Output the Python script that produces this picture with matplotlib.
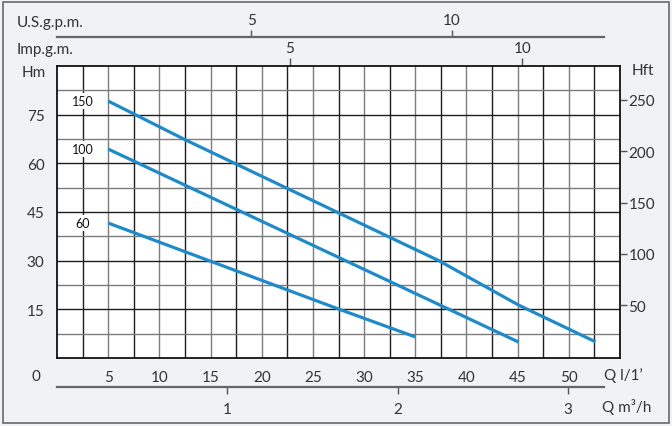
import matplotlib
matplotlib.use("Agg")
import matplotlib.pyplot as plt
from matplotlib.patches import Rectangle

plt.rcParams['font.family'] = ['Lato', 'DejaVu Sans']

# ---- data (Q in l/min, H in m) ----
curve_labels = ["150", "100", "60"]
q_150 = [5, 12.5, 37.3, 45.1, 52.6]
h_150 = [79.2, 67.3, 30.0, 16.3, 5.0]
q_100 = [5, 35, 45.1]
h_100 = [64.4, 19.9, 4.9]
q_60 = [5, 27.5, 35]
h_60 = [41.6, 15.1, 6.5]
label_y = [79.2, 64.4, 41.6]

x_ticks = [5, 10, 15, 20, 25, 30, 35, 40, 45, 50]
y_ticks = [15, 30, 45, 60, 75]
hft_ticks = [50, 100, 150, 200, 250]
imp_ticks = [5, 10]
us_ticks = [5, 10]
m3h_ticks = [1, 2, 3]

W, H = 672, 427
fig = plt.figure(figsize=(W / 100, H / 100), dpi=100)
fig.patch.set_facecolor('#f1f2f4')
fig.patches.append(Rectangle((3 / W, 3 / H), (669 - 3) / W, (424 - 3) / H,
                             transform=fig.transFigure, fill=False,
                             edgecolor='#6a6a6a', linewidth=1.2))

def px_axes(x0, y0, x1, y1):
    return [x0 / W, (H - y1) / H, (x1 - x0) / W, (y1 - y0) / H]

txt = '#333333'
fs = 11

ax = fig.add_axes(px_axes(57, 67, 620, 359))
ax.set_facecolor('white')
ax.set_xlim(0, 55)
ax.set_ylim(0, 90)

# grid
for i in range(1, 22):
    v = i * 2.5
    col = '#7c7c7c' if i % 2 == 0 else '#1e1e1e'
    ax.axvline(v, color=col, lw=1.0, zorder=1)
for i in range(1, 12):
    v = i * 7.5
    col = '#1e1e1e' if i % 2 == 0 else '#7c7c7c'
    ax.axhline(v, color=col, lw=1.0, zorder=1)

blue = '#1f8ac9'
for q, h in [(q_150, h_150), (q_100, h_100), (q_60, h_60)]:
    ax.plot(q, h, color=blue, lw=2.3, solid_capstyle='butt', zorder=3)
for lab, yv in zip(curve_labels, label_y):
    ax.text(2.5, yv, lab, ha='center', va='center', fontsize=9, color='#111111',
            zorder=4, bbox=dict(facecolor='white', edgecolor='none', pad=1.5))

for s in ax.spines.values():
    s.set_color('#111111')
    s.set_linewidth(1.3)
ax.set_xticks(x_ticks)
ax.set_yticks(y_ticks)
ax.tick_params(axis='both', length=0, labelsize=fs, labelcolor=txt)
ax.tick_params(axis='x', pad=9)
ax.tick_params(axis='y', pad=9)
ax.text(-0.03, -0.06, "0", transform=ax.transAxes, ha='right', va='center',
        fontsize=fs, color=txt)

# right Hft axis
axr = ax.twinx()
axr.set_ylim(-1.5, 283)
axr.set_yticks(hft_ticks)
axr.tick_params(axis='y', direction='out', length=5, width=1, color='#555555',
                labelsize=fs, labelcolor=txt, pad=1)
for s in axr.spines.values():
    s.set_visible(False)

# top Imp.g.m. axis
axi = ax.secondary_xaxis('top', functions=(lambda x: x / 4.546, lambda x: x * 4.546))
axi.set_xticks(imp_ticks)
axi.tick_params(axis='x', direction='out', length=6, width=1, color='#555555',
                labelsize=fs, labelcolor=txt, pad=2)
axi.spines['top'].set_visible(False)

# US gpm line
axu = fig.add_axes(px_axes(57, 38, 604, 38.01))
axu.set_xlim(0.167, 13.79)
axu.set_ylim(0, 1)
axu.patch.set_alpha(0)
for k in ['left', 'right', 'bottom']:
    axu.spines[k].set_visible(False)
axu.spines['top'].set_color('#666666')
axu.spines['top'].set_linewidth(1.6)
axu.xaxis.tick_top()
axu.set_xticks(us_ticks)
axu.set_yticks([])
axu.tick_params(axis='x', direction='out', length=5, width=1, color='#555555',
                labelsize=fs, labelcolor=txt, pad=2)

# m3/h line
axm = fig.add_axes(px_axes(57, 387.99, 604, 388))
axm.set_xlim(0, 53.5 / 16.667)
axm.set_ylim(0, 1)
axm.patch.set_alpha(0)
for k in ['left', 'right', 'top']:
    axm.spines[k].set_visible(False)
axm.spines['bottom'].set_color('#666666')
axm.spines['bottom'].set_linewidth(1.6)
axm.set_xticks(m3h_ticks)
axm.set_yticks([])
axm.tick_params(axis='x', direction='out', length=5, width=1, color='#555555',
                labelsize=fs, labelcolor=txt, pad=6)

# labels
def ftext(x, y, s, ha='left'):
    fig.text(x / W, 1 - y / H, s, ha=ha, va='center', fontsize=fs, color=txt)

ftext(17, 23, "U.S.g.p.m.")
ftext(17, 50, "Imp.g.m.")
ftext(22, 73, "Hm")
ftext(632, 71, "Hft")
ftext(604, 376, "Q l/1’")
ftext(602, 407, "Q m³/h")

fig.savefig("out.png", dpi=100, facecolor=fig.get_facecolor())
